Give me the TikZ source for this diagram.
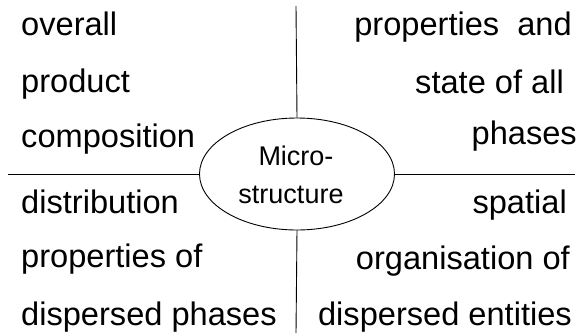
\documentclass[tikz,border=0pt]{standalone}
\usepackage{fontspec}
\setmainfont{Liberation Sans}
\usetikzlibrary{shapes.geometric}
\begin{document}
\begin{tikzpicture}[x=1pt,y=-1pt,
  rule/.style={draw=black,line width=0.9pt},
  lefttext/.style={inner sep=0pt,anchor=base west,font=\fontsize{32.6}{38}\selectfont},
  righttext/.style={inner sep=0pt,anchor=base east,font=\fontsize{32.6}{38}\selectfont},
  centretext/.style={inner sep=0pt,anchor=base,font=\fontsize{27}{32}\selectfont},
  bubble/.style={ellipse,draw=black,line width=0.9pt,minimum width=195pt,minimum height=112pt,inner sep=0pt}]
\useasboundingbox (0,0) rectangle (581,333);
\fill[white] (0,0) rectangle (581,333);
% centre ellipse
\node[bubble] (micro) at (297,174) {};
\node[centretext] (m1) at (296,165) {Micro-};
\node[centretext] (m2) at (291,203) {structure};
% rule ends
\coordinate (topend) at (296,6);
\coordinate (botend) at (296,333);
\coordinate (leftend) at (8,174);
\coordinate (rightend) at (575,174);
\draw[rule] (micro.north) -- (topend);
\draw[rule] (micro.south) -- (botend);
\draw[rule] (micro.west) -- (leftend);
\draw[rule] (micro.east) -- (rightend);
% top left
\node[lefttext] (tl1) at (21,35) {overall};
\node[lefttext] (tl2) at (21,92) {product};
\node[lefttext] (tl3) at (21,147) {composition};
% bottom left
\node[lefttext] (bl1) at (21,213) {distribution};
\node[lefttext] (bl2) at (21,267) {properties of};
\node[lefttext] (bl3) at (21,325) {dispersed phases};
% top right
\node[righttext] (tr1) at (572,35) {properties\ \ and};
\node[righttext] (tr2) at (564,93) {state of all};
\node[righttext] (tr3) at (577,144) {phases};
% bottom right
\node[righttext] (br1) at (567,213) {spatial};
\node[righttext] (br2) at (570,269) {organisation of};
\node[righttext] (br3) at (572,325) {dispersed entities};
\end{tikzpicture}
\end{document}
